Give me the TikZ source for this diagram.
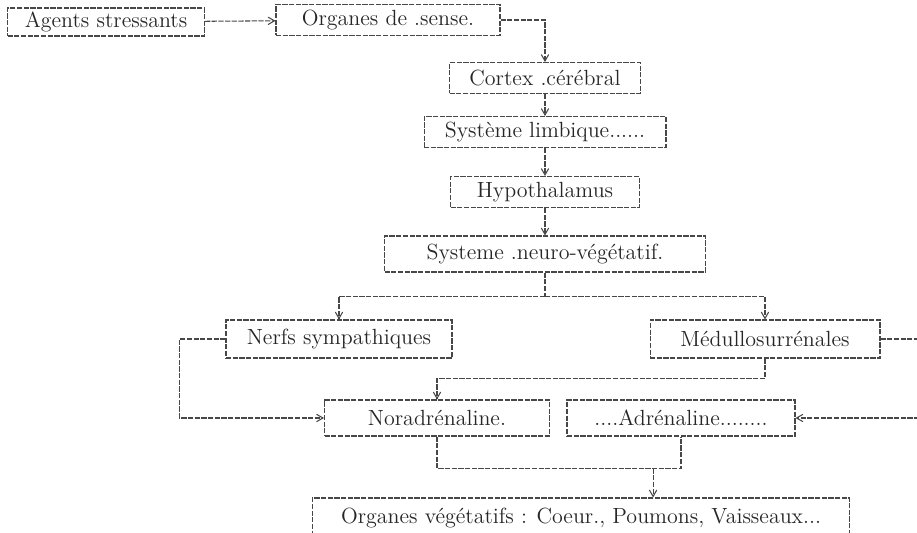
\documentclass[tikz,border=0pt]{standalone}
\usepackage{tikz}
\usetikzlibrary{arrows}
\newcommand\colorBoxline{black!72}
\newcommand\colorArrow{black!72}
\newcommand\boxFontsize{\fontsize{12.5}{14}\selectfont}
\tikzset{
	stagebox/.style={draw=\colorBoxline, line width=0.6pt, dash pattern=on 3pt off 0.8pt,
		inner sep=2pt, minimum height=0.62cm, font=\boxFontsize, text=black!85},
	flow/.style={draw=\colorArrow, line width=0.6pt, dash pattern=on 3pt off 0.8pt},
}

\begin{document}
\begin{tikzpicture}[x=0.02cm, y=-0.02cm, >=angle 60]
	\useasboundingbox (0,0) rectangle (917,533);
	
	% upper chain
	\node[stagebox, minimum width=3.94cm, minimum height=0.56cm] (agents) at (106,22) {Agents stressants};
	\node[stagebox, minimum width=4.48cm] (organes) at (388,20) {Organes de .sense.};
	\node[stagebox, minimum width=3.82cm] (cortex) at (545,78) {Cortex .cérébral};
	\node[stagebox, minimum width=4.84cm] (limbique) at (545,132) {Système limbique......};
	\node[stagebox, minimum width=3.78cm] (hypo) at (545,192) {Hypothalamus};
	\node[stagebox, minimum width=6.42cm, minimum height=0.72cm] (neuroveg) at (545,254) {Systeme .neuro-végétatif.};
	
	% two branches
	\node[stagebox, minimum width=4.52cm, minimum height=0.76cm] (nerfs) at (339,339) {Nerfs sympathiques};
	\node[stagebox, minimum width=4.6cm, minimum height=0.76cm] (medullo) at (765,339) {Médullosurrénales};
	\node[stagebox, minimum width=4.5cm, minimum height=0.72cm] (noradre) at (437,418) {Noradrénaline.};
	\node[stagebox, minimum width=4.56cm, minimum height=0.72cm] (adre) at (681,418) {....Adrénaline........};
	
	% effectors
	\node[stagebox, minimum width=10.76cm, minimum height=0.8cm] (vegetatifs) at (581,518) {Organes végétatifs : Coeur., Poumons, Vaisseaux...};
	
	\draw[flow, ->] (agents) -- (organes);
	\draw[flow, ->] (organes.east) -| (cortex.north);
	\draw[flow, ->] (cortex) -- (limbique);
	\draw[flow, ->] (limbique) -- (hypo);
	\draw[flow, ->] (hypo) -- (neuroveg);
	
	\draw[flow] (neuroveg.south) -- ++(0,24) coordinate (split);
	\draw[flow, ->] (split) -| (nerfs.north);
	\draw[flow, ->] (split) -| (medullo.north);
	
	\draw[flow, ->] (medullo.south) -- ++(0,20) -| (noradre.north);
	\draw[flow, ->] (nerfs.west) -- ++(-46,0) |- (noradre.west);
	\draw[flow, ->] (medullo.east) -- ++(60,0) |- (adre.east);
	
	\draw[flow] (noradre.south) -- ++(0,32) coordinate (merge) -| (adre.south);
	\coordinate (mid) at ([xshift=123] merge);
	\draw[flow, ->] (mid) -- (mid |- vegetatifs.north);
\end{tikzpicture}
\end{document}
